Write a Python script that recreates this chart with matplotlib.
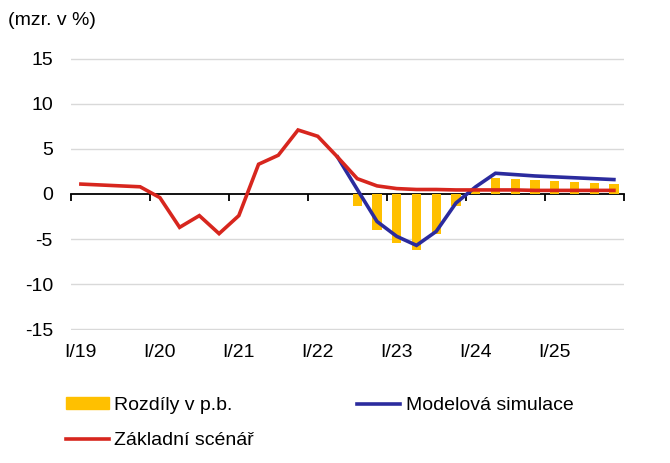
import numpy as np
import matplotlib.pyplot as plt
from matplotlib.patches import Patch
from matplotlib.lines import Line2D

plt.rcParams['font.family'] = ['Liberation Sans', 'DejaVu Sans']
plt.rcParams['axes.unicode_minus'] = False

# quarters I/19 .. IV/25
years = ['19', '20', '21', '22', '23', '24', '25']
year_labels = ['I/' + y for y in years]

zakladni = [1.1, 1.0, 0.9, 0.8,
            -0.4, -3.7, -2.4, -4.4,
            -2.4, 3.3, 4.3, 7.1,
            6.4, 4.1, 1.7, 0.9,
            0.6, 0.5, 0.5, 0.45,
            0.45, 0.45, 0.45, 0.4,
            0.4, 0.4, 0.4, 0.4]

# model simulation starts in II/22
sim_start = 13
simulace = [4.1, 0.5, -3.05, -4.7, -5.7, -4.15, -1.0, 0.8,
            2.3, 2.15, 2.0, 1.9, 1.8, 1.7, 1.6]

rozdily = [-1.3, -4.0, -5.4, -6.2, -4.4, -1.3, 0.35,
           1.8, 1.65, 1.55, 1.4, 1.3, 1.25, 1.1]
roz_start = 14

c_bar = '#FFC000'
c_red = '#D7261E'
c_blue = '#2B2B9E'
fs = 14

fig = plt.figure(figsize=(6.7, 4.63), dpi=100)
ax = fig.add_axes([0.106, 0.287, 0.825, 0.588])

x = np.arange(len(zakladni))
ax.bar(x[roz_start:roz_start + len(rozdily)], rozdily, width=0.47, color=c_bar, zorder=2)
ax.plot(x[sim_start:sim_start + len(simulace)], simulace, color=c_blue, lw=2.6, zorder=3,
        solid_joinstyle='miter')
ax.plot(x, zakladni, color=c_red, lw=2.6, zorder=4, solid_joinstyle='miter')

ax.set_xlim(-0.5, len(zakladni) - 0.5)
ax.set_ylim(-15.1, 15.1)
ax.set_yticks(np.arange(-15, 16, 5))
for v in [-15, -10, -5, 5, 10, 15]:
    ax.axhline(v, color='#D9D9D9', lw=1.0, zorder=0)

for s in ['left', 'right', 'top']:
    ax.spines[s].set_visible(False)
ax.spines['bottom'].set_position(('data', 0))
ax.spines['bottom'].set_linewidth(1.3)
ax.spines['bottom'].set_zorder(1)
ax.set_xticks(np.arange(-0.5, len(zakladni), 4))
ax.tick_params(axis='x', direction='out', length=5, width=1.3, labelbottom=False)
ax.tick_params(axis='y', length=0, labelsize=fs, pad=13)

sec = ax.secondary_xaxis(0.0)
sec.set_xticks(np.arange(0, len(zakladni), 4))
sec.set_xticklabels(year_labels)
sec.tick_params(length=0, labelsize=fs, pad=10)
sec.spines['bottom'].set_visible(False)

fig.text(0.012, 0.945, '(mzr. v %)', fontsize=fs)

handles = [Patch(color=c_bar), Line2D([], [], color=c_red, lw=2.6),
           Line2D([], [], color=c_blue, lw=2.6)]
labels = ['Rozdíly v p.b.', 'Základní scénář', 'Modelová simulace']
fig.legend(handles, labels, ncol=2, loc='lower left', bbox_to_anchor=(0.078, 0.0),
           frameon=False, fontsize=fs, handlelength=2.2, handleheight=0.5,
           handletextpad=0.3, columnspacing=5.3, labelspacing=0.95, borderpad=0.2)

fig.savefig('out.png', dpi=100)
